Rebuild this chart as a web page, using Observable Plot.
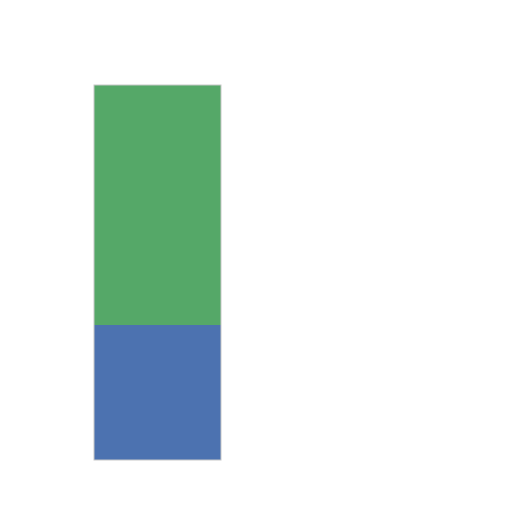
<!DOCTYPE html>
<html>
<head>
<meta charset="utf-8">
<script src="https://cdn.jsdelivr.net/npm/d3@7"></script>
<script src="https://cdn.jsdelivr.net/npm/@observablehq/plot@0.6"></script>
<style>
  html, body { margin: 0; padding: 0; background: #fff; }
</style>
</head>
<body>
<div id="chart"></div>
<script>
const categories = ["A"];
const series = ["Bottom", "Top"];
const bottomValues = [36];
const topValues = [64];
const seriesColors = ["#4c72b0", "#55a868"];

const data = [];
categories.forEach((c, i) => {
  data.push({category: c, series: series[0], value: bottomValues[i]});
  data.push({category: c, series: series[1], value: topValues[i]});
});
const totals = categories.map((c, i) => ({category: c, value: bottomValues[i] + topValues[i]}));

const chart = Plot.plot({
  width: 512,
  height: 512,
  marginLeft: 94,
  marginRight: 291,
  marginTop: 85,
  marginBottom: 52,
  x: {domain: categories, padding: 0, axis: null},
  y: {domain: [0, 100], axis: null},
  color: {domain: series, range: seriesColors},
  marks: [
    Plot.barY(data, Plot.stackY({x: "category", y: "value", fill: "series", order: series})),
    Plot.barY(totals, {x: "category", y: "value", fill: "none", stroke: "#c8c8c8", strokeWidth: 1})
  ]
});
document.getElementById("chart").appendChild(chart);
</script>
</body>
</html>
